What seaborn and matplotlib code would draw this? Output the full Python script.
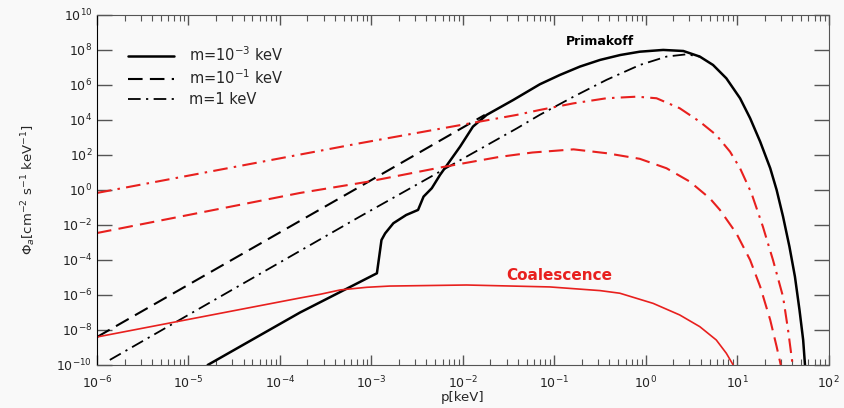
import numpy as np
import matplotlib
matplotlib.use("Agg")
import matplotlib.pyplot as plt
import seaborn as sns
from matplotlib.ticker import LogLocator, NullLocator, NullFormatter

# valores, en log10(p[keV]) y log10(Phi)
prim_m3_logp = [-4.79, -3.78, -2.94, -2.91, -2.89, -2.85, -2.76, -2.62, -2.49, -2.43, -2.34,
                -2.25, -2.03, -1.89, -1.74, -1.45, -1.158, -0.94, -0.72, -0.50, -0.28, -0.066,
                0.19, 0.41, 0.59, 0.735, 0.88, 1.03, 1.14, 1.25, 1.36, 1.43, 1.50, 1.57, 1.63,
                1.68, 1.72, 1.74]
prim_m3_logphi = [-10.0, -7.0, -4.76, -3.62, -2.86, -2.48, -1.90, -1.43, -1.14, -0.38, 0.10,
                  0.86, 2.48, 3.62, 4.29, 5.14, 6.04, 6.57, 7.05, 7.43, 7.71, 7.90,
                  8.0, 7.94, 7.62, 7.14, 6.38, 5.24, 4.10, 2.76, 1.24, 0.0, -1.52, -3.24, -4.95,
                  -6.86, -8.57, -10.0]

prim_m01_logp = [-6.0, -3.126, -1.76]
prim_m01_logphi = [-8.40, 0.19, 4.29]

prim_m1_logp = [-5.86, -3.126, -1.41, -1.16, -0.79, -0.43, -0.066, 0.226, 0.445, 0.59]
prim_m1_logphi = [-9.71, -1.52, 3.52, 4.29, 5.33, 6.29, 7.14, 7.62, 7.75, 7.62]

coal_m3_logp = [-6.0, -3.78, -3.56, -3.34, -3.05, -2.80, -1.96, -1.05, -0.50, -0.284, 0.08,
                0.37, 0.59, 0.77, 0.88, 0.955]
coal_m3_logphi = [-8.40, -6.17, -5.96, -5.71, -5.56, -5.49, -5.43, -5.54, -5.75, -5.90, -6.48,
                  -7.14, -7.81, -8.57, -9.33, -10.0]

coal_m01_logp = [-6.0, -3.78, -3.05, -2.22, -1.60, -1.24, -0.79, -0.43, -0.066, 0.226, 0.48,
                 0.59, 0.70, 0.81, 0.99, 1.14, 1.25, 1.36, 1.43, 1.475]
coal_m01_logphi = [-2.46, -0.17, 0.46, 1.31, 1.89, 2.14, 2.32, 2.10, 1.78, 1.24, 0.48,
                   0.0, -0.48, -1.14, -2.48, -4.00, -5.52, -7.43, -8.95, -10.0]

coal_m1_logp = [-6.0, -3.126, -1.41, -1.16, -0.79, -0.43, -0.10, 0.117, 0.37, 0.59, 0.77,
                0.92, 1.03, 1.155, 1.28, 1.39, 1.50, 1.555, 1.605]
coal_m1_logphi = [-0.17, 2.67, 4.29, 4.57, 4.95, 5.24, 5.33, 5.24, 4.67, 3.90, 3.14,
                  2.19, 1.24, -0.19, -2.10, -4.00, -6.10, -8.00, -10.0]

labels = ["m=10$^{-3}$ keV", "m=10$^{-1}$ keV", "m=1 keV"]
xticks = [1e-6, 1e-5, 1e-4, 1e-3, 1e-2, 1e-1, 1e0, 1e1, 1e2]
yticks = [1e-10, 1e-8, 1e-6, 1e-4, 1e-2, 1e0, 1e2, 1e4, 1e6, 1e8, 1e10]

bg = "#f9f9f9"
rojo = "#e8201e"
sns.set_style("ticks")
plt.rcParams["font.family"] = ["DejaVu Sans"]

fig = plt.figure(figsize=(8.45, 4.08), dpi=100, facecolor=bg)
ax = fig.add_axes([0.1148, 0.1054, 0.866, 0.858])
ax.set_facecolor(bg)


def curva(lp, lf, color, ls, lw, label=None):
    sns.lineplot(x=10 ** np.array(lp), y=10 ** np.array(lf), color=color,
                 linestyle=ls, linewidth=lw, label=label, ax=ax, sort=False)


dash = (0, (7, 3.5))
dashdot = (0, (7, 3, 1.2, 3))
curva(prim_m3_logp, prim_m3_logphi, "black", "-", 1.8, labels[0])
curva(prim_m01_logp, prim_m01_logphi, "black", dash, 1.5, labels[1])
curva(prim_m1_logp, prim_m1_logphi, "black", dashdot, 1.3, labels[2])
curva(coal_m3_logp, coal_m3_logphi, rojo, "-", 1.2)
curva(coal_m01_logp, coal_m01_logphi, rojo, dash, 1.5)
curva(coal_m1_logp, coal_m1_logphi, rojo, dashdot, 1.5)

ax.set_xscale("log")
ax.set_yscale("log")
ax.set_xticks(xticks)
ax.set_yticks(yticks)
ax.set_xlim(1e-6, 1e2)
ax.set_ylim(1e-10, 1e10)
ax.yaxis.set_minor_locator(NullLocator())
ax.xaxis.set_minor_locator(LogLocator(base=10, subs=np.arange(2, 10), numticks=20))
ax.xaxis.set_minor_formatter(NullFormatter())

ax.tick_params(which="both", direction="in", top=True, right=True, colors="#555555",
               labelcolor="#222222", labelsize=9)
ax.tick_params(axis="y", which="major", length=11, width=1.0)
ax.tick_params(axis="x", which="major", length=7, width=1.0, pad=7)
ax.tick_params(axis="x", which="minor", length=4, width=0.8)
for side in ["top", "right", "bottom"]:
    ax.spines[side].set_visible(True)
    ax.spines[side].set_color("#555555")
ax.spines["left"].set_color("black")

ax.set_xlabel("p[keV]", fontsize=9.5, labelpad=0)
ax.set_ylabel("$\\Phi_a$[cm$^{-2}$ s$^{-1}$ keV$^{-1}$]", fontsize=9.5, labelpad=13)

ax.text(10 ** -0.5, 10 ** 8.46, "Primakoff", fontsize=9, fontweight="bold",
        color="black", ha="center", va="center")
ax.text(10 ** -0.95, 10 ** -4.86, "Coalescence", fontsize=11, fontweight="bold",
        color=rojo, ha="center", va="center")

ax.legend(loc="upper left", bbox_to_anchor=(0.024, 0.95), frameon=False, fontsize=10.5,
          handlelength=3.2, handletextpad=1.0, labelspacing=0.3)

fig.savefig("out.png", dpi=100, facecolor=bg)
